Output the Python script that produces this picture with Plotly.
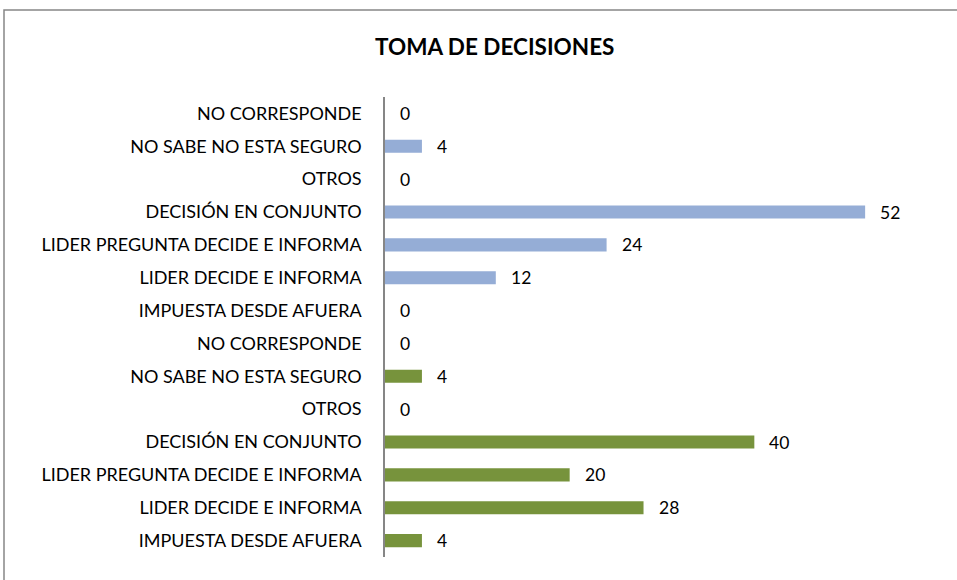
import plotly.graph_objects as go

# categories, top to bottom as drawn
labels = [
    "NO CORRESPONDE",
    "NO SABE NO ESTA SEGURO",
    "OTROS",
    "DECISIÓN EN CONJUNTO",
    "LIDER PREGUNTA DECIDE E INFORMA",
    "LIDER DECIDE E INFORMA",
    "IMPUESTA DESDE AFUERA",
]
blue_values = [0, 4, 0, 52, 24, 12, 0]
green_values = [0, 4, 0, 40, 20, 28, 4]

BLUE = "#95ADD6"
GREEN = "#77933C"
FONT = "Lato, Open Sans, sans-serif"

W, H = 957, 580
M = {"l": 385, "r": 18, "t": 97, "b": 23}

n = len(labels)
# row positions: blue block on top, green block below
blue_pos = [2 * n - 1 - i for i in range(n)]
green_pos = [n - 1 - i for i in range(n)]

fig = go.Figure()
for vals, pos, col in ((blue_values, blue_pos, BLUE), (green_values, green_pos, GREEN)):
    fig.add_trace(
        go.Bar(
            x=vals,
            y=pos,
            orientation="h",
            marker={"color": col, "line": {"width": 0}},
            width=0.4,
            showlegend=False,
            hoverinfo="x",
        )
    )
    for v, p in zip(vals, pos):
        fig.add_annotation(
            x=v, y=p, text=str(v), showarrow=False,
            xanchor="left", xshift=13,
            font={"family": FONT, "size": 17.5, "color": "#000000"},
        )

# outer chart frame (extends past the right/bottom of the view)
pw = W - M["l"] - M["r"]
ph = H - M["t"] - M["b"]
fig.add_shape(
    type="rect", xref="paper", yref="paper",
    x0=(4 - M["l"]) / pw, x1=(962 - M["l"]) / pw,
    y0=(H - M["b"] - 590) / ph, y1=(H - M["b"] - 10) / ph,
    line={"color": "#868686", "width": 1.5}, fillcolor="rgba(0,0,0,0)",
)

fig.update_layout(
    width=W, height=H,
    margin=M,
    paper_bgcolor="white", plot_bgcolor="white",
    title={
        "text": "<b>TOMA DE DECISIONES</b>",
        "x": 0.517, "xanchor": "center", "y": 0.918, "yanchor": "middle",
        "font": {"family": FONT, "size": 22.5, "color": "#000000"},
    },
    xaxis={"range": [0, 60], "visible": False, "fixedrange": True},
    yaxis={
        "range": [-0.5, 2 * n - 0.5],
        "tickvals": blue_pos + green_pos,
        "ticktext": labels + labels,
        "showline": True, "linecolor": "#868686", "linewidth": 1.5,
        "showgrid": False, "zeroline": False, "ticks": "",
        "ticklabelstandoff": 18,
        "tickfont": {"family": FONT, "size": 18, "color": "#000000"},
    },
)

# drop the page's default body margin so the chart sits at the window's corner
fig.write_html(
    "out.html",
    config={"displayModeBar": False},
    post_script="document.body.style.margin='0';",
)
